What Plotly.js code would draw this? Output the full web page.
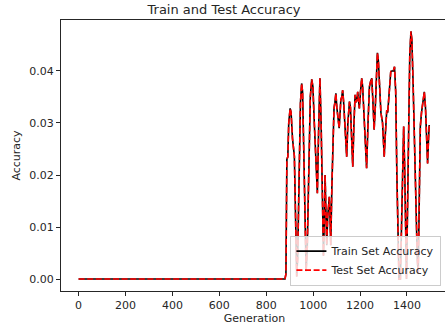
<!DOCTYPE html>
<html>
<head>
<meta charset="utf-8">
<script src="https://cdn.plot.ly/plotly-3.0.1.min.js"></script>
<style>
html, body { margin: 0; padding: 0; overflow: hidden; background: #fff; }
#chart { width: 448px; height: 325px; }
</style>
</head>
<body>
<div id="chart"></div>
<script>
// Generation values (x)
const generations = [0, 880, 884, 888, 892, 896, 902, 906, 912, 920, 925, 930, 934, 940, 946, 951, 955, 960, 965, 970, 975, 982, 988, 994, 999, 1005, 1012, 1018, 1024, 1029, 1034, 1040, 1044, 1048, 1051, 1054, 1058, 1062, 1066, 1069, 1072, 1075, 1080, 1085, 1089, 1093, 1097, 1101, 1105, 1111, 1115, 1118, 1122, 1126, 1130, 1136, 1143, 1148, 1152, 1155, 1159, 1163, 1169, 1174, 1179, 1183, 1187, 1190, 1194, 1197, 1202, 1207, 1211, 1216, 1222, 1228, 1234, 1240, 1245, 1250, 1255, 1260, 1265, 1270, 1274, 1278, 1283, 1289, 1296, 1303, 1308, 1314, 1318, 1322, 1327, 1331, 1336, 1342, 1347, 1352, 1357, 1362, 1366, 1372, 1376, 1381, 1386, 1390, 1394, 1398, 1402, 1407, 1412, 1417, 1421, 1426, 1431, 1436, 1440, 1444, 1448, 1452, 1457, 1462, 1468, 1474, 1479, 1484, 1488, 1492, 1495];

// Train set accuracy
const trainAccuracy = [0, 0, 0.001, 0.023, 0.0235, 0.030, 0.0328, 0.032, 0.027, 0.0236, 0.012, 0.0005, 0.004, 0.022, 0.034, 0.0376, 0.036, 0.025, 0.010, 0.0015, 0.006, 0.025, 0.035, 0.0384, 0.037, 0.030, 0.022, 0.0165, 0.030, 0.0386, 0.030, 0.012, 0.0045, 0.012, 0.020, 0.014, 0.0065, 0.012, 0.015, 0.0158, 0.012, 0.0065, 0.018, 0.028, 0.0328, 0.034, 0.0357, 0.033, 0.0312, 0.029, 0.032, 0.0344, 0.035, 0.0363, 0.034, 0.028, 0.0235, 0.030, 0.034, 0.0341, 0.033, 0.028, 0.0216, 0.030, 0.0354, 0.034, 0.0345, 0.036, 0.034, 0.0328, 0.036, 0.0386, 0.037, 0.033, 0.027, 0.0213, 0.030, 0.037, 0.038, 0.0386, 0.034, 0.0287, 0.033, 0.040, 0.0435, 0.042, 0.036, 0.032, 0.030, 0.0235, 0.028, 0.0325, 0.032, 0.035, 0.039, 0.0399, 0.040, 0.040, 0.0408, 0.036, 0.020, 0.003, 0.000, 0.000, 0.010, 0.024, 0.0293, 0.022, 0.006, 0.000, 0.012, 0.030, 0.043, 0.0476, 0.046, 0.038, 0.028, 0.015, 0.0094, 0.004, 0.001, 0.015, 0.0293, 0.032, 0.034, 0.036, 0.033, 0.027, 0.0222, 0.027, 0.0296];

// Test set accuracy (visually identical to train)
const testAccuracy = [0, 0, 0.001, 0.023, 0.0235, 0.030, 0.0328, 0.032, 0.027, 0.0236, 0.012, 0.0005, 0.004, 0.022, 0.034, 0.0376, 0.036, 0.025, 0.010, 0.0015, 0.006, 0.025, 0.035, 0.0384, 0.037, 0.030, 0.022, 0.0165, 0.030, 0.0386, 0.030, 0.012, 0.0045, 0.012, 0.020, 0.014, 0.0065, 0.012, 0.015, 0.0158, 0.012, 0.0065, 0.018, 0.028, 0.0328, 0.034, 0.0357, 0.033, 0.0312, 0.029, 0.032, 0.0344, 0.035, 0.0363, 0.034, 0.028, 0.0235, 0.030, 0.034, 0.0341, 0.033, 0.028, 0.0216, 0.030, 0.0354, 0.034, 0.0345, 0.036, 0.034, 0.0328, 0.036, 0.0386, 0.037, 0.033, 0.027, 0.0213, 0.030, 0.037, 0.038, 0.0386, 0.034, 0.0287, 0.033, 0.040, 0.0435, 0.042, 0.036, 0.032, 0.030, 0.0235, 0.028, 0.0325, 0.032, 0.035, 0.039, 0.0399, 0.040, 0.040, 0.0408, 0.036, 0.020, 0.003, 0.000, 0.000, 0.010, 0.024, 0.0293, 0.022, 0.006, 0.000, 0.012, 0.030, 0.043, 0.0476, 0.046, 0.038, 0.028, 0.015, 0.0094, 0.004, 0.001, 0.015, 0.0293, 0.032, 0.034, 0.036, 0.033, 0.027, 0.0222, 0.027, 0.0296];

const xTicks = [0, 200, 400, 600, 800, 1000, 1200, 1400];
const yTicks = [0.00, 0.01, 0.02, 0.03, 0.04];

const font = "DejaVu Sans, sans-serif";
const textColor = "#262626";

const traces = [
  {
    x: generations, y: trainAccuracy, type: "scatter", mode: "lines",
    name: "Train Set Accuracy",
    line: { color: "#000000", width: 1.6 }
  },
  {
    x: generations, y: testAccuracy, type: "scatter", mode: "lines",
    name: "Test Set Accuracy",
    line: { color: "#ff0000", width: 1.6, dash: "6px,2.6px" }
  }
];

const layout = {
  width: 448, height: 325,
  margin: { l: 61, r: 0, t: 20, b: 34, pad: 0 },
  paper_bgcolor: "#ffffff", plot_bgcolor: "#ffffff",
  font: { family: font, size: 11, color: textColor },
  title: { text: "Train and Test Accuracy", font: { family: font, size: 13, color: textColor }, x: 0.5, xanchor: "center", y: 0.985, yanchor: "top" },
  xaxis: {
    range: [-75, 1575], tickvals: xTicks, ticktext: xTicks.map(String),
    ticks: "outside", ticklen: 4, tickwidth: 1, tickcolor: "#262626",
    showline: true, linecolor: "#262626", linewidth: 1, mirror: true,
    showgrid: false, zeroline: false,
    tickfont: { family: font, size: 11, color: textColor },
    title: { text: "Generation", font: { family: font, size: 11, color: textColor }, standoff: 2 }
  },
  yaxis: {
    range: [-0.0023, 0.0498], tickvals: yTicks, ticktext: yTicks.map(v => v.toFixed(2)),
    ticks: "outside", ticklen: 4, tickwidth: 1, tickcolor: "#262626",
    showline: true, linecolor: "#262626", linewidth: 1, mirror: true,
    showgrid: false, zeroline: false,
    tickfont: { family: font, size: 11, color: textColor },
    title: { text: "Accuracy", font: { family: font, size: 11, color: textColor }, standoff: 6 }
  },
  showlegend: true,
  legend: {
    x: 0.983, y: 0.02, xanchor: "right", yanchor: "bottom",
    bgcolor: "rgba(255,255,255,0.8)", bordercolor: "#cccccc", borderwidth: 1,
    font: { family: font, size: 11, color: textColor },
    tracegroupgap: 0, itemwidth: 30
  }
};

Plotly.newPlot("chart", traces, layout, { displayModeBar: false, staticPlot: true });
</script>
</body>
</html>
